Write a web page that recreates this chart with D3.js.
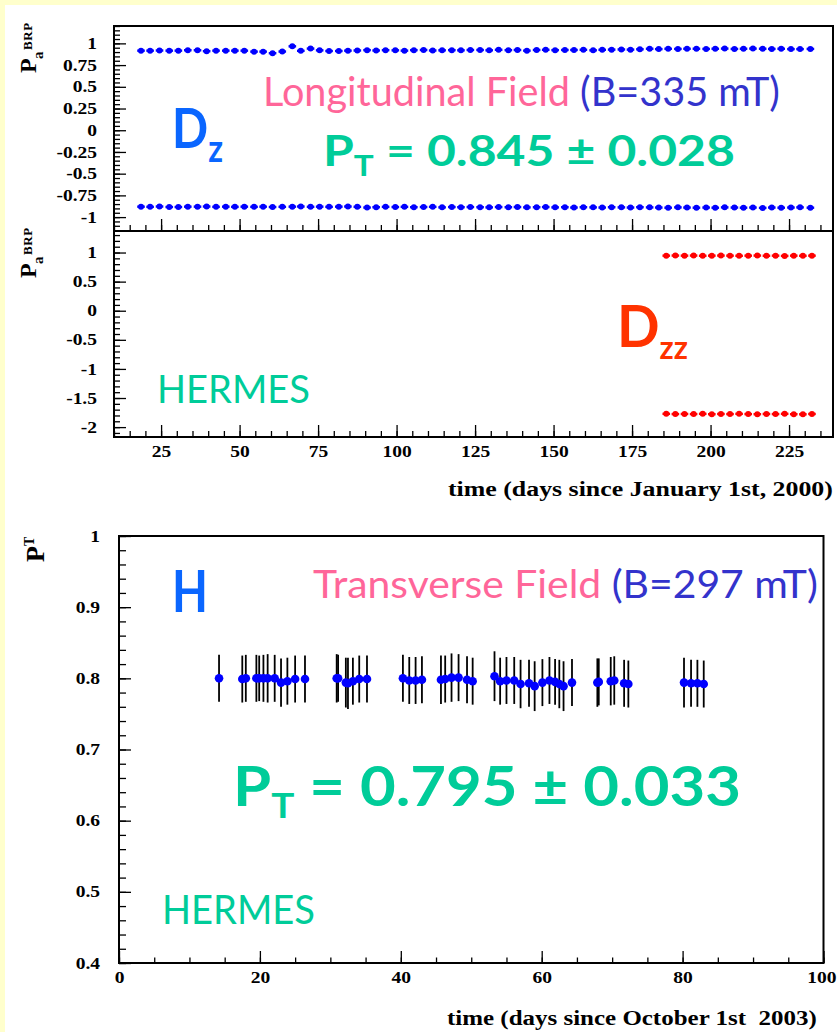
<!DOCTYPE html>
<html>
<head>
<meta charset="utf-8">
<script src="https://cdn.jsdelivr.net/npm/d3@7"></script>
<style>
  html, body { margin: 0; padding: 0; background: #ffffcc; }
  svg { display: block; }
  text { white-space: pre; }
</style>
</head>
<body>
<svg id="chart" width="837" height="1032"></svg>
<script>
// ---------------- data ----------------
// Longitudinal field run (days since January 1st, 2000), vector polarisation Dz
const dzDays = [
  18.6, 21.5, 24.5, 27.6, 30.5, 33.5, 36.6, 39.5, 42.5, 45.6, 48.5, 51.5,
  54.6, 57.5, 60.5, 63.6, 66.8, 69.5, 72.6, 75.5, 78.5, 81.6, 84.5, 87.5,
  90.6, 93.5, 96.5, 99.6, 102.5, 105.5, 108.6, 111.5, 114.5, 117.6, 120.5, 123.5,
  126.6, 129.5, 132.5, 135.6, 138.5, 141.5, 144.6, 147.5, 150.5, 153.6, 156.5, 159.5,
  162.6, 165.5, 168.5, 171.6, 174.5, 177.5, 180.6, 183.5, 186.5, 189.6, 192.5, 195.5,
  198.6, 201.5, 204.5, 207.6, 210.5, 213.5, 216.6, 219.5, 222.5, 225.6, 228.5, 231.8
];
const dzPlus = [
  0.916, 0.916, 0.918, 0.916, 0.916, 0.921, 0.921, 0.910, 0.916, 0.916, 0.916, 0.916,
  0.905, 0.905, 0.887, 0.906, 0.966, 0.914, 0.940, 0.920, 0.912, 0.912, 0.916, 0.918,
  0.922, 0.918, 0.922, 0.920, 0.916, 0.922, 0.924, 0.918, 0.920, 0.922, 0.920, 0.924,
  0.924, 0.920, 0.926, 0.922, 0.924, 0.916, 0.924, 0.926, 0.922, 0.924, 0.924, 0.926,
  0.920, 0.926, 0.928, 0.930, 0.928, 0.932, 0.938, 0.934, 0.938, 0.936, 0.938, 0.938,
  0.936, 0.938, 0.940, 0.936, 0.938, 0.940, 0.938, 0.936, 0.938, 0.934, 0.934, 0.936
];
const dzMinus = [
  -0.880, -0.882, -0.878, -0.884, -0.884, -0.880, -0.880, -0.878, -0.882, -0.880, -0.882, -0.880,
  -0.882, -0.880, -0.884, -0.882, -0.880, -0.878, -0.882, -0.880, -0.882, -0.880, -0.878, -0.882,
  -0.890, -0.886, -0.882, -0.884, -0.882, -0.886, -0.884, -0.882, -0.888, -0.884, -0.886, -0.884,
  -0.886, -0.888, -0.884, -0.886, -0.884, -0.888, -0.886, -0.884, -0.888, -0.886, -0.890, -0.886,
  -0.888, -0.890, -0.886, -0.888, -0.890, -0.886, -0.888, -0.890, -0.892, -0.888, -0.890, -0.892,
  -0.890, -0.892, -0.888, -0.890, -0.892, -0.890, -0.894, -0.890, -0.892, -0.890, -0.888, -0.892
];
// Tensor polarisation Dzz
const dzzDays = [185.9, 188.8, 191.7, 194.6, 197.5, 200.4, 203.3, 206.2, 209.1,
                 212.0, 214.9, 217.8, 220.7, 223.6, 226.5, 229.4, 232.3];
const dzzPlus = [0.946, 0.948, 0.946, 0.948, 0.944, 0.946, 0.948, 0.946, 0.944,
                 0.946, 0.948, 0.944, 0.946, 0.942, 0.946, 0.944, 0.946];
const dzzMinus = [-1.772, -1.776, -1.774, -1.776, -1.772, -1.778, -1.774, -1.776, -1.772,
                  -1.776, -1.778, -1.774, -1.776, -1.772, -1.778, -1.780, -1.774];

// Transverse field run (days since October 1st 2003), hydrogen polarisation
const hDays = [
  14.2, 17.5, 18.0, 19.5, 19.9, 20.5, 21.1, 22.1, 23.0, 23.9, 25.0, 26.4,
  30.9, 31.1, 32.2, 32.5, 33.2, 34.1, 35.2,
  40.3, 41.2, 42.1, 43.0,
  45.7, 46.3, 47.2, 48.2, 49.4, 50.2,
  53.3, 54.1, 55.0, 56.1, 57.0, 58.2, 59.0, 60.1, 61.1, 61.9, 62.5, 63.1, 64.3,
  67.9, 68.1, 69.8, 70.3, 71.7, 72.3,
  80.2, 81.2, 82.1, 83.0
];
const hPol = [
  0.800, 0.799, 0.800, 0.800, 0.800, 0.800, 0.800, 0.800, 0.794, 0.796, 0.799, 0.799,
  0.800, 0.800, 0.794, 0.793, 0.796, 0.799, 0.799,
  0.800, 0.797, 0.797, 0.798,
  0.798, 0.799, 0.801, 0.801, 0.798, 0.796,
  0.803, 0.796, 0.797, 0.797, 0.792, 0.793, 0.789, 0.794, 0.797, 0.795, 0.792, 0.789, 0.794,
  0.794, 0.795, 0.796, 0.797, 0.793, 0.792,
  0.794, 0.793, 0.793, 0.792
];
const hErr = [
  0.033, 0.033, 0.033, 0.033, 0.032, 0.033, 0.034, 0.033, 0.034, 0.033, 0.033, 0.033,
  0.034, 0.033, 0.035, 0.036, 0.033, 0.033, 0.033,
  0.033, 0.033, 0.033, 0.033,
  0.034, 0.033, 0.034, 0.033, 0.033, 0.033,
  0.035, 0.033, 0.033, 0.033, 0.034, 0.033, 0.035, 0.033, 0.033, 0.032, 0.034, 0.035, 0.033,
  0.034, 0.033, 0.034, 0.034, 0.033, 0.033,
  0.035, 0.033, 0.033, 0.033
];

// tick labels
const topXTicks = [25, 50, 75, 100, 125, 150, 175, 200, 225];
const dzYTicks = [-1, -0.75, -0.5, -0.25, 0, 0.25, 0.5, 0.75, 1];
const dzzYTicks = [-2, -1.5, -1, -0.5, 0, 0.5, 1];
const hXTicks = [0, 20, 40, 60, 80, 100];
const hYTicks = [0.4, 0.5, 0.6, 0.7, 0.8, 0.9, 1];

// ---------------- drawing ----------------
const W = 837, H = 1032;
const svg = d3.select("#chart");
const SERIF = "'Liberation Serif', 'DejaVu Serif', serif";
const HAND = "Lato, 'Open Sans', sans-serif";
const LABEL_SX = 1.22;   // wide tick-label lettering
const LABEL_SIZE = 16;
const fmt = d => String(+d.toFixed(2));

svg.append("rect").attr("width", W).attr("height", H).attr("fill", "#ffffcc");
svg.append("rect").attr("x", 5).attr("y", 5).attr("width", W - 5).attr("height", H - 5).attr("fill", "#ffffff");

function minorRange(lo, hi, step) {
  return d3.range(Math.ceil(lo / step - 1e-9), Math.floor(hi / step + 1e-9) + 1).map(i => +(i * step).toFixed(4));
}

function styleAxis(g) {
  g.select(".domain").remove();
  g.selectAll(".tick line").attr("stroke", "#000").attr("stroke-width", 1.3);
  g.selectAll(".tick text")
    .attr("fill", "#000")
    .attr("font-family", SERIF)
    .attr("font-weight", 700)
    .attr("font-size", LABEL_SIZE);
}

function leftAxis(x0, scale, major, minorStep, pad, minorLen) {
  const [lo, hi] = scale.domain();
  svg.append("g").attr("transform", `translate(${x0},0)`)
    .call(d3.axisLeft(scale).tickValues(minorRange(lo, hi, minorStep)).tickSize(-minorLen).tickFormat(""))
    .call(styleAxis);
  const g = svg.append("g").attr("transform", `translate(${x0},0)`)
    .call(d3.axisLeft(scale).tickValues(major).tickSize(-12).tickPadding(pad).tickFormat(fmt))
    .call(styleAxis);
  g.selectAll(".tick text").attr("x", -pad / LABEL_SX).attr("transform", `scale(${LABEL_SX},1)`);
}

function bottomAxis(y0, scale, major, minorStep, labels, minorLen) {
  const [lo, hi] = scale.domain();
  svg.append("g").attr("transform", `translate(0,${y0})`)
    .call(d3.axisBottom(scale).tickValues(minorRange(lo, hi, minorStep)).tickSize(-minorLen).tickFormat(""))
    .call(styleAxis);
  const g = svg.append("g").attr("transform", `translate(0,${y0})`)
    .call(d3.axisBottom(scale).tickValues(major).tickSize(-12).tickPadding(9)
      .tickFormat(labels ? fmt : ""))
    .call(styleAxis);
  g.selectAll(".tick text").attr("transform", `scale(${LABEL_SX},1)`);
  // keep the last label inside the page
  g.selectAll(".tick").each(function (d) {
    const text = d3.select(this).select("text");
    if (!text.text()) return;
    const bb = text.node().getBBox();
    const right = scale(d) + (bb.x + bb.width) * LABEL_SX;
    if (right > W - 1) text.attr("x", (W - 1 - right) / LABEL_SX);
  });
}

// text with optional sub/superscript parts, stretched to a given width
function richText(x, y, parts, opts) {
  const t = svg.append("text")
    .attr("x", x).attr("y", y)
    .attr("font-family", opts.family || HAND)
    .attr("font-weight", opts.weight || 400)
    .attr("font-size", opts.size)
    .attr("fill", opts.fill || "#000");
  let shift = 0;
  parts.forEach(p => {
    const ts = t.append("tspan").text(p.t);
    if (p.fill) ts.attr("fill", p.fill);
    if (p.size) ts.attr("font-size", p.size);
    const target = p.dy || 0;
    if (target !== shift) { ts.attr("dy", target - shift); shift = target; }
  });
  if (opts.width) {
    const bb = t.node().getBBox();
    const s = opts.width / bb.width;
    t.attr("transform", `translate(${x},0) scale(${s},1) translate(${-x},0)`);
  }
  return t;
}

// rotated axis title: main letter with sub/superscript
function yTitle(x, y, items) {
  const g = svg.append("g").attr("transform", `translate(${x},${y}) rotate(-90)`);
  items.forEach(it => {
    g.append("text").attr("x", it.u).attr("y", it.v)
      .attr("font-family", SERIF).attr("font-weight", 700)
      .attr("font-size", it.size).attr("letter-spacing", it.ls || 0)
      .attr("fill", "#000").text(it.t);
  });
}

// ======== upper chart: longitudinal field ========
const L1 = 114, R1 = 833, T1 = 26, M1 = 231, B1 = 437;
const x1 = d3.scaleLinear().domain([10, 239]).range([L1, R1]);
const yDz = d3.scaleLinear().domain([-1.16, 1.2]).range([M1, T1]);
const yDzz = d3.scaleLinear().domain([-2.17, 1.37]).range([B1, M1]);

// axes
leftAxis(L1, yDz, dzYTicks, 0.05, 17, 6);
leftAxis(L1, yDzz, dzzYTicks, 0.1, 17, 6);
bottomAxis(M1, x1, topXTicks, 5, false, 6);
bottomAxis(B1, x1, topXTicks, 5, true, 6);

// points
function rowMarkers(days, vals, yScale, color) {
  const g = svg.append("g");
  const pts = d3.zip(days, vals);
  g.selectAll("line").data(pts).join("line")
    .attr("x1", d => x1(d[0]) - 3.8).attr("x2", d => x1(d[0]) + 3.8)
    .attr("y1", d => yScale(d[1])).attr("y2", d => yScale(d[1]))
    .attr("stroke", color).attr("stroke-width", 2.4);
  g.selectAll("circle").data(pts).join("circle")
    .attr("cx", d => x1(d[0])).attr("cy", d => yScale(d[1]))
    .attr("r", 3).attr("fill", color);
}
rowMarkers(dzDays, dzPlus, yDz, "#0000ff");
rowMarkers(dzDays, dzMinus, yDz, "#0000ff");
rowMarkers(dzzDays, dzzPlus, yDzz, "#ff0000");
rowMarkers(dzzDays, dzzMinus, yDzz, "#ff0000");

// frame
svg.append("rect").attr("x", L1).attr("y", T1).attr("width", R1 - L1).attr("height", B1 - T1)
  .attr("fill", "none").attr("stroke", "#000").attr("stroke-width", 2);
svg.append("line").attr("x1", L1).attr("x2", R1).attr("y1", M1).attr("y2", M1)
  .attr("stroke", "#000").attr("stroke-width", 2);

// titles
yTitle(36, 73, [
  { t: "P", u: 0, v: 0, size: 24 },
  { t: "a", u: 14, v: 7, size: 15 },
  { t: "BRP", u: 23, v: -4, size: 13, ls: 0.6 }
]);
yTitle(36, 278, [
  { t: "P", u: 0, v: 0, size: 24 },
  { t: "a", u: 14, v: 7, size: 15 },
  { t: "BRP", u: 23, v: -4, size: 13, ls: 0.6 }
]);
richText(448, 496, [{ t: "time (days since January 1st, 2000)" }],
  { family: SERIF, weight: 700, size: 20, width: 385 });

// annotations
richText(263, 106, [
  { t: "Longitudinal Field ", fill: "#ff6699" },
  { t: "(B=335 mT)", fill: "#3333cc" }
], { size: 40, width: 517 });
richText(323, 166, [
  { t: "P" },
  { t: "T", size: 28, dy: 10 },
  { t: " = 0.845 \u00b1 0.028", dy: 0 }
], { size: 42, weight: 700, fill: "#00cc99", width: 412 });
richText(172, 148, [
  { t: "D" },
  { t: "z", size: 38, dy: 14 }
], { size: 56, weight: 700, fill: "#0a66ff", width: 51 });
richText(617, 347, [
  { t: "D" },
  { t: "zz", size: 32, dy: 12 }
], { size: 58, weight: 700, fill: "#ff3300", width: 71 });
richText(157, 403, [{ t: "HERMES" }], { size: 39, fill: "#00cc99", width: 153 });

// ======== lower chart: transverse field ========
const L2 = 119, R2 = 823.5, T2 = 536, B2 = 963;
const x2 = d3.scaleLinear().domain([0, 100]).range([L2, R2]);
const y2 = d3.scaleLinear().domain([0.4, 1]).range([B2, T2]);

leftAxis(L2, y2, hYTicks, 0.02, 19, 7);
bottomAxis(B2, x2, hXTicks, 5, true, 5.5);

const hPts = d3.zip(hDays, hPol, hErr);
const gH = svg.append("g");
gH.selectAll("line").data(hPts).join("line")
  .attr("x1", d => x2(d[0])).attr("x2", d => x2(d[0]))
  .attr("y1", d => y2(d[1] - d[2])).attr("y2", d => y2(d[1] + d[2]))
  .attr("stroke", "#000").attr("stroke-width", 1.8);
gH.selectAll("circle").data(hPts).join("circle")
  .attr("cx", d => x2(d[0])).attr("cy", d => y2(d[1]))
  .attr("r", 4.3).attr("fill", "#0000ff");

svg.append("rect").attr("x", L2).attr("y", T2).attr("width", R2 - L2).attr("height", B2 - T2)
  .attr("fill", "none").attr("stroke", "#000").attr("stroke-width", 2);

yTitle(44, 562, [
  { t: "P", u: 0, v: 0, size: 26 },
  { t: "T", u: 16, v: -10, size: 14 }
]);
richText(447, 1025, [{ t: "time (days since October 1st  2003)" }],
  { family: SERIF, weight: 700, size: 20, width: 370 });

richText(172, 612, [{ t: "H" }], { size: 58, weight: 700, fill: "#0a66ff", width: 36 });
richText(313, 598, [
  { t: "Transverse Field ", fill: "#ff6699" },
  { t: "(B=297 mT)", fill: "#3333cc" }
], { size: 39, width: 505 });
richText(233, 806, [
  { t: "P" },
  { t: "T", size: 35, dy: 12 },
  { t: " = 0.795 \u00b1 0.033", dy: 0 }
], { size: 56, weight: 700, fill: "#00cc99", width: 508 });
richText(162, 924, [{ t: "HERMES" }], { size: 40, fill: "#00cc99", width: 153 });
</script>
</body>
</html>
